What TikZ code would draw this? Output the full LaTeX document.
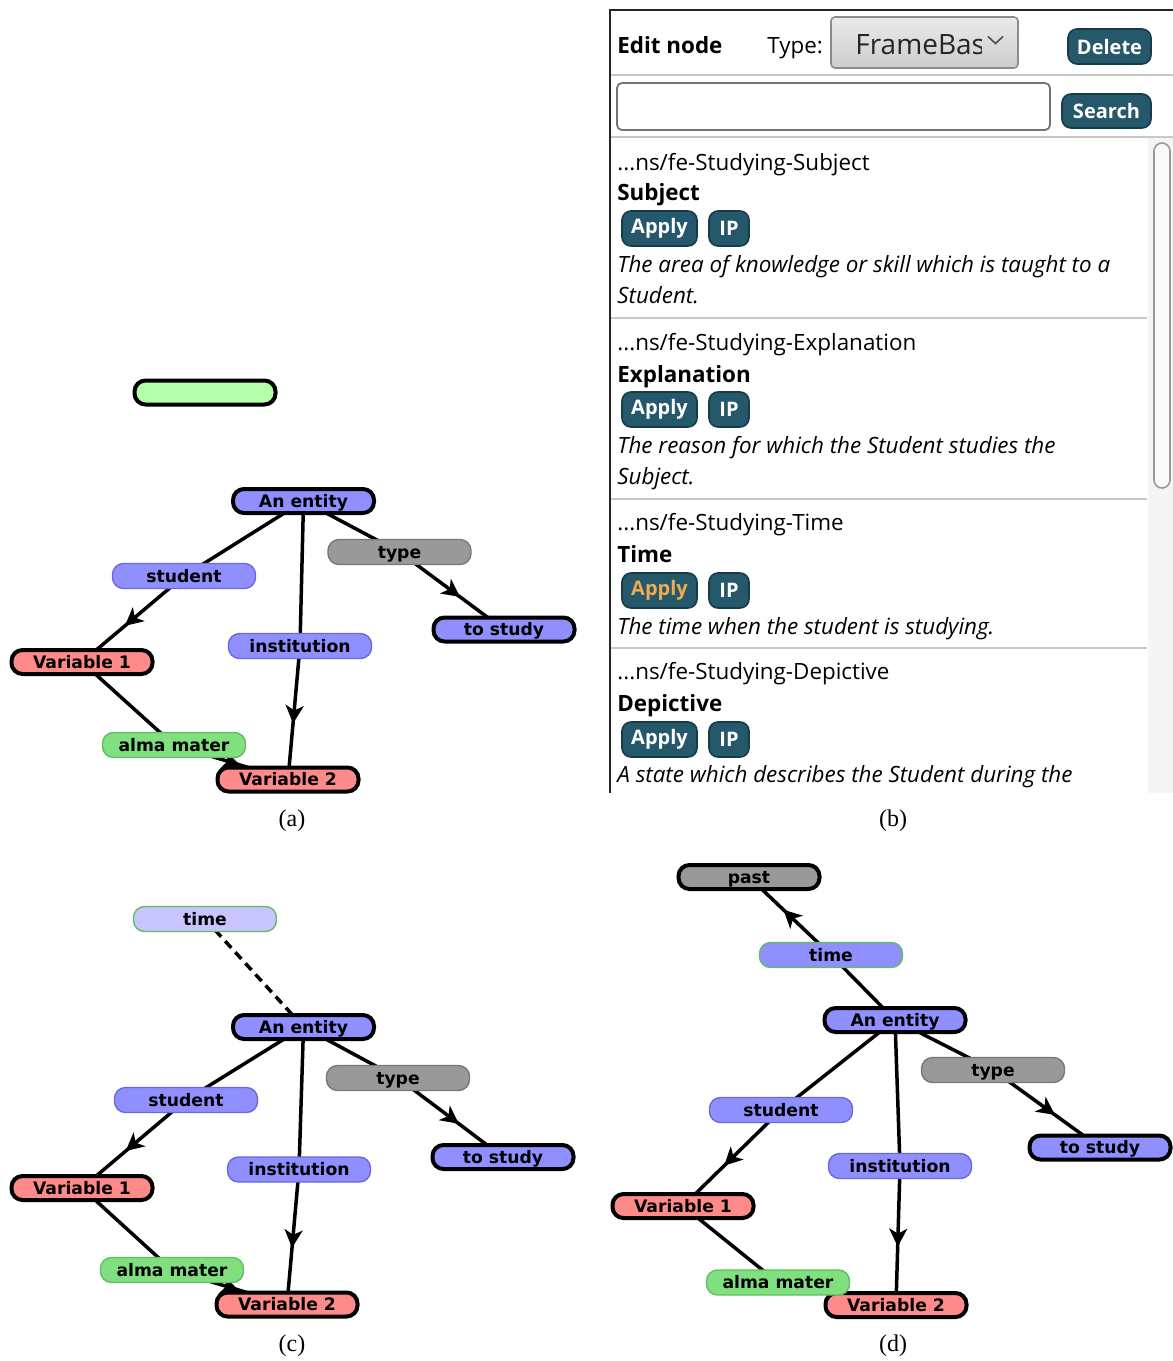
\documentclass[tikz,border=0pt]{standalone}
\usepackage{fontspec}
\setmainfont{Liberation Serif}
\newfontfamily\graphfont{DejaVu Sans}
\newfontfamily\uifont{Open Sans}
\usetikzlibrary{arrows.meta,decorations.markings,backgrounds}

\definecolor{nodeblue}{RGB}{143,143,255}
\definecolor{nodeblueedge}{RGB}{105,105,220}
\definecolor{nodered}{RGB}{255,138,138}
\definecolor{nodegray}{RGB}{153,153,153}
\definecolor{nodegrayedge}{RGB}{120,120,120}
\definecolor{nodegreen}{RGB}{128,224,128}
\definecolor{nodegreenedge}{RGB}{95,190,95}
\definecolor{barfill}{RGB}{180,255,170}
\definecolor{lavender}{RGB}{200,196,255}
\definecolor{btnteal}{RGB}{36,88,106}
\definecolor{btnedge}{RGB}{22,60,74}
\definecolor{applyorange}{RGB}{240,170,80}
\definecolor{ruleGray}{RGB}{200,200,200}

\tikzset{
  gbase/.style={rectangle, rounded corners=5.5pt, inner sep=0pt, text=black,
    text height=6.2pt, text depth=0pt,
    font=\graphfont\bfseries\fontsize{8.6}{10}\selectfont},
  keynode/.style={gbase, draw=black, line width=2pt, minimum width=70.5pt, minimum height=12pt},
  relnode/.style={gbase, line width=0.7pt, minimum width=71.5pt, minimum height=12.5pt},
  bluekey/.style={keynode, fill=nodeblue},
  redkey/.style={keynode, fill=nodered},
  graykey/.style={keynode, fill=nodegray},
  bluerel/.style={relnode, fill=nodeblue, draw=nodeblueedge},
  grayrel/.style={relnode, fill=nodegray, draw=nodegrayedge},
  greenrel/.style={relnode, fill=nodegreen, draw=nodegreenedge},
  conn/.style={line width=1.75pt, black},
  arrowmid/.style={postaction={decorate}, decoration={markings,
      mark=at position 0.58 with {\arrow{Stealth[length=9pt,width=9pt,inset=2.5pt]}}}},
  uitext/.style={anchor=base west, inner sep=0pt, font=\uifont\fontsize{11.2}{13}\selectfont},
  uibold/.style={uitext, font=\uifont\bfseries\fontsize{11.2}{13}\selectfont},
  uiital/.style={uitext, font=\uifont\itshape\fontsize{11.2}{13}\selectfont},
  btn/.style={rectangle, rounded corners=4.5pt, fill=btnteal, draw=btnedge, line width=0.8pt,
    inner sep=0pt, text=white, minimum height=17.5pt,
    font=\uifont\bfseries\fontsize{10}{12}\selectfont},
  applybtn/.style={btn, minimum width=37.5pt},
  ipbtn/.style={btn, minimum width=20pt},
  caption/.style={font=\fontsize{12}{14}\selectfont, inner sep=0pt}
}

\begin{document}
\begin{tikzpicture}[x=0.5pt,y=-0.5pt]
\useasboundingbox (0,0) rectangle (1173,1361);

% ---------- graph (a) ----------
\node[keynode, fill=barfill] (a-bar) at (205,392.5) {};
\node[bluekey] (a-ent) at (303.5,501) {An entity};
\node[grayrel] (a-type) at (399.5,552) {type};
\node[bluerel] (a-stu) at (184,576) {student};
\node[bluekey] (a-study) at (504,629.5) {to study};
\node[bluerel] (a-inst) at (300,646) {institution};
\node[redkey] (a-var1) at (82,662) {Variable 1};
\node[greenrel] (a-alma) at (174,745) {alma mater};
\node[redkey] (a-var2) at (288,779.5) {Variable 2};

% ---------- graph (c) ----------
\node[relnode, fill=lavender, draw=nodegreenedge] (c-time) at (205,919) {time};
\node[bluekey] (c-ent) at (303.5,1027) {An entity};
\node[grayrel] (c-type) at (398,1078) {type};
\node[bluerel] (c-stu) at (186,1100) {student};
\node[bluekey] (c-study) at (503,1157) {to study};
\node[bluerel] (c-inst) at (299,1169.5) {institution};
\node[redkey] (c-var1) at (82,1188) {Variable 1};
\node[greenrel] (c-alma) at (172,1270) {alma mater};
\node[redkey] (c-var2) at (287,1304.5) {Variable 2};

% ---------- graph (d) ----------
\node[graykey] (d-past) at (749,877) {past};
\node[relnode, fill=nodeblue, draw=nodegreenedge] (d-time) at (831,955) {time};
\node[bluekey] (d-ent) at (895,1020) {An entity};
\node[grayrel] (d-type) at (993,1070) {type};
\node[bluerel] (d-stu) at (781,1110) {student};
\node[bluekey] (d-study) at (1100,1147.5) {to study};
\node[bluerel] (d-inst) at (900,1166) {institution};
\node[redkey] (d-var1) at (683,1206) {Variable 1};
\node[redkey] (d-var2) at (896,1305) {Variable 2};
\node[greenrel] (d-alma) at (778,1282.5) {alma mater};

% ---------- connectors, behind the nodes ----------
\begin{scope}[on background layer]
  \fill[white] (0,0) rectangle (1173,1361);
  \foreach \p in {a,c,d}{
    \draw[conn] (\p-ent.center) -- (\p-stu.center);
    \draw[conn, arrowmid] (\p-stu.center) -- (\p-var1.center);
    \draw[conn] (\p-ent.center) -- (\p-inst.center);
    \draw[conn, arrowmid] (\p-inst.center) -- (\p-var2.center);
    \draw[conn] (\p-ent.center) -- (\p-type.center);
    \draw[conn, arrowmid] (\p-type.center) -- (\p-study.center);
    \draw[conn] (\p-var1.center) -- (\p-alma.center);
    \draw[conn, arrowmid] (\p-alma.center) -- (\p-var2.center);
  }
  \draw[conn, dash pattern=on 4.5pt off 3pt] (c-time.center) -- (c-ent.center);
  \draw[conn] (d-ent.center) -- (d-time.center);
  \draw[conn, arrowmid] (d-time.center) -- (d-past.center);
\end{scope}

% ---------- edit panel (b) ----------
\begin{scope}
  \clip (600,0) rectangle (1173,793);
  % frame
  \draw[line width=1pt, black!85] (609.5,793) -- (609.5,9.5) -- (1173,9.5);
  % header row
  \node[uibold] (hdr-edit) at (617,53) {Edit node};
  \node[uitext] (hdr-type) at (767,53) {Type:};
  \node[rectangle, rounded corners=2pt, draw=black!45, line width=0.8pt,
        top color=black!8, bottom color=black!20, minimum width=93.5pt,
        minimum height=25.5pt, inner sep=0pt] (dropdown) at (924.5,42.5) {};
  \begin{scope}
    \clip (832,18) rectangle (981,67);
    \node[anchor=base west, inner sep=0pt, font=\uifont\fontsize{14}{16}\selectfont,
          text=black!85] (dd-text) at (855,54) {FrameBase};
  \end{scope}
  \draw[line width=0.8pt, black!70] (988,36.5) -- (995.5,43.5) -- (1003,36.5);
  \node[btn, minimum width=41.5pt] (btn-delete) at (1109.5,46.5) {Delete};
  \draw[line width=1pt, ruleGray] (611,75) -- (1173,75);
  % search row
  \node[rectangle, rounded corners=2.5pt, draw=black!55, line width=0.9pt, fill=white,
        minimum width=216.5pt, minimum height=23.5pt, inner sep=0pt] (search-box) at (833.5,106.5) {};
  \node[btn, minimum width=44.5pt, minimum height=17pt] (btn-search) at (1106.5,111) {Search};
  \draw[line width=1pt, ruleGray] (611,137) -- (1173,137);
  % scroll bar
  \fill[black!4] (1148,138) rectangle (1173,793);
  \draw[line width=0.8pt, black!40, fill=black!2, rounded corners=4pt] (1154,143) rectangle (1170,488);
  % separators
  \foreach \yy in {318,499,648}{
    \draw[line width=1pt, ruleGray] (611,\yy) -- (1147,\yy);
  }
  % item: Subject
  \node[uitext] (s-uri) at (617,170) {...ns/fe-Studying-Subject};
  \node[uibold] (s-name) at (617,200) {Subject};
  \node[applybtn] (s-apply) at (659.5,228.5) {Apply};
  \node[ipbtn] (s-ip) at (729,228.5) {IP};
  \node[uiital] (s-d1) at (617,272) {The area of knowledge or skill which is taught to a};
  \node[uiital] (s-d2) at (617,303) {Student.};
  % item: Explanation
  \node[uitext] (e-uri) at (617,350) {...ns/fe-Studying-Explanation};
  \node[uibold] (e-name) at (617,382) {Explanation};
  \node[applybtn] (e-apply) at (659.5,409.5) {Apply};
  \node[ipbtn] (e-ip) at (729,409.5) {IP};
  \node[uiital] (e-d1) at (617,453) {The reason for which the Student studies the};
  \node[uiital] (e-d2) at (617,484) {Subject.};
  % item: Time
  \node[uitext] (t-uri) at (617,530) {...ns/fe-Studying-Time};
  \node[uibold] (t-name) at (617,562) {Time};
  \node[applybtn, text=applyorange] (t-apply) at (659.5,590.5) {Apply};
  \node[ipbtn] (t-ip) at (729,590.5) {IP};
  \node[uiital] (t-d1) at (617,634) {The time when the student is studying.};
  % item: Depictive
  \node[uitext] (p-uri) at (617,679) {...ns/fe-Studying-Depictive};
  \node[uibold] (p-name) at (617,711) {Depictive};
  \node[applybtn] (p-apply) at (659.5,739.5) {Apply};
  \node[ipbtn] (p-ip) at (729,739.5) {IP};
  \node[uiital] (p-d1) at (617,782) {A state which describes the Student during the};
\end{scope}

% ---------- captions ----------
\node[caption] (cap-a) at (292,821) {(a)};
\node[caption] (cap-b) at (893,821) {(b)};
\node[caption] (cap-c) at (292,1346) {(c)};
\node[caption] (cap-d) at (893,1346) {(d)};
\end{tikzpicture}
\end{document}
